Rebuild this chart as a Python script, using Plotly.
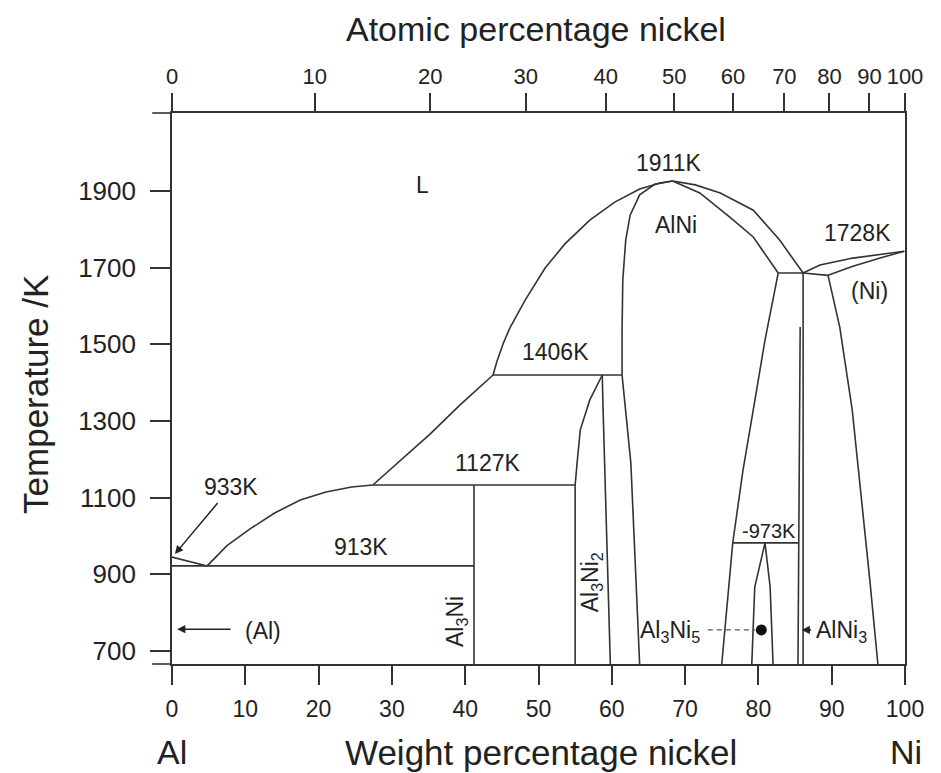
import plotly.graph_objects as go

# ---------------- data (weight % Ni, temperature K) ----------------
# liquidus, Al side
liq_al_wt = [0, 4.8]
liq_al_T = [945, 922]
liq1_wt = [4.8, 7.5, 10.6, 14.0, 17.5, 21.0, 24.5, 27.4]
liq1_T = [922, 975, 1018, 1060, 1094, 1115, 1128, 1133]
liq2_wt = [27.4, 31.1, 35.2, 39.3, 43.8]
liq2_T = [1133, 1196, 1266, 1342, 1420]
liq3_wt = [43.8, 44.3, 45.2, 46.1, 48.2, 50.9, 53.6, 57.0, 60.4, 63.8, 66.6, 68.3]
liq3_T = [1420, 1454, 1503, 1543, 1616, 1699, 1762, 1824, 1871, 1905, 1921, 1926]
# AlNi, Al-rich boundary (solidus + solvus)
alni_left_wt = [68.3, 65.9, 63.8, 62.5, 61.9, 61.5, 61.4, 61.4, 62.6, 63.8]
alni_left_T = [1926, 1918, 1890, 1837, 1772, 1668, 1537, 1420, 1190, 666]
# AlNi, Ni-rich liquidus and solidus
liq4_wt = [68.3, 71.4, 74.8, 79.3, 82.9, 86.1]
liq4_T = [1926, 1916, 1895, 1850, 1772, 1686]
sol4_wt = [68.3, 72.0, 76.1, 79.3, 82.7]
sol4_T = [1926, 1895, 1832, 1780, 1686]
# AlNi, Ni-rich solvus
alni_right_wt = [82.7, 80.9, 79.3, 77.9, 76.5, 75.0]
alni_right_T = [1686, 1511, 1329, 1172, 982, 666]
# peritectic 1686 line
per_wt = [82.7, 86.1, 89.5]
per_T = [1686, 1686, 1680]
# Ni liquidus / solidus
liq5_wt = [86.1, 88.4, 92.9, 99.9]
liq5_T = [1686, 1707, 1725, 1743]
sol5_wt = [89.5, 92.9, 96.6, 99.9]
sol5_T = [1680, 1704, 1725, 1743]
# (Ni) solvus
ni_solvus_wt = [89.5, 91.1, 92.8, 94.1, 95.2, 96.3]
ni_solvus_T = [1680, 1545, 1329, 1094, 885, 666]
# AlNi3 boundaries
alni3_a_wt = [86.1, 86.1]
alni3_a_T = [1686, 666]
alni3_b_wt = [85.7, 85.4]
alni3_b_T = [1545, 666]
# 973 K line
l973_wt = [76.4, 85.4]
l973_T = [982, 982]
# Al3Ni5
al3ni5_wt = [79.1, 79.5, 80.9, 81.6, 82.0]
al3ni5_T = [666, 867, 982, 867, 666]
# Al3Ni2
al3ni2_left_wt = [55.0, 55.0, 55.3, 55.7, 57.0, 58.7]
al3ni2_left_T = [666, 1133, 1198, 1277, 1355, 1420]
al3ni2_right_wt = [58.7, 58.8, 59.8]
al3ni2_right_T = [1420, 1337, 666]
# horizontals and Al3Ni
l1406_wt = [43.8, 61.4]
l1406_T = [1420, 1420]
l1127_wt = [27.4, 55.0]
l1127_T = [1133, 1133]
l913_wt = [0, 41.2]
l913_T = [922, 922]
al3ni_wt = [41.2, 41.2]
al3ni_T = [1133, 666]
# Al3Ni5 marker
dot_wt = [80.4]
dot_T = [755]
dash_wt = [73.1, 79.6]
dash_T = [755, 755]

# axes
temp_ticks = [700, 900, 1100, 1300, 1500, 1700, 1900]
wt_ticks = [0, 10, 20, 30, 40, 50, 60, 70, 80, 90, 100]
at_ticks = [0, 10, 20, 30, 40, 50, 60, 70, 80, 90, 100]
M_NI, M_AL = 58.69, 26.98
at_pos = [a * M_NI / (a * M_NI + (100 - a) * M_AL) * 100 for a in at_ticks]

# labels (text, wt, T)
lab_text = ["L", "1911K", "AlNi", "1728K", "(Ni)", "1406K", "1127K", "933K", "913K",
            "Al<sub>3</sub>Ni", "Al<sub>3</sub>Ni<sub>2</sub>", "-973K",
            "Al<sub>3</sub>Ni<sub>5</sub>", "AlNi<sub>3</sub>", "(Al)"]
lab_wt = [34.2, 67.7, 68.8, 93.5, 95.2, 52.3, 43.1, 8.1, 25.8, 38.9, 57.2, 81.5, 68.0, 91.4, 12.4]
lab_T = [1916, 1973, 1811, 1790, 1639, 1480, 1190, 1128, 971, 776, 880, 1013, 752, 750, 752]
lab_angle = [0, 0, 0, 0, 0, 0, 0, 0, 0, -90, -90, 0, 0, 0, 0]
lab_size = [23, 23, 23, 23, 23, 23, 23, 23, 23, 23, 23, 20, 23, 23, 23]

LC = "#333333"
LW = 1.6
FONT = "Liberation Sans, Arial, sans-serif"
TC = "#222222"

fig = go.Figure()
lines = [
    (liq_al_wt, liq_al_T), (liq1_wt, liq1_T), (liq2_wt, liq2_T), (liq3_wt, liq3_T),
    (alni_left_wt, alni_left_T), (liq4_wt, liq4_T), (sol4_wt, sol4_T),
    (alni_right_wt, alni_right_T), (per_wt, per_T), (liq5_wt, liq5_T), (sol5_wt, sol5_T),
    (ni_solvus_wt, ni_solvus_T), (alni3_a_wt, alni3_a_T), (alni3_b_wt, alni3_b_T),
    (l973_wt, l973_T), (al3ni5_wt, al3ni5_T), (al3ni2_left_wt, al3ni2_left_T),
    (al3ni2_right_wt, al3ni2_right_T), (l1406_wt, l1406_T), (l1127_wt, l1127_T),
    (l913_wt, l913_T), (al3ni_wt, al3ni_T),
]
for xs, ys in lines:
    fig.add_trace(go.Scatter(x=xs, y=ys, mode="lines", line=dict(color=LC, width=LW),
                             showlegend=False, hoverinfo="skip"))
fig.add_trace(go.Scatter(x=dash_wt, y=dash_T, mode="lines",
                         line=dict(color="#555555", width=1.4, dash="5px,4px"),
                         showlegend=False, hoverinfo="skip"))
fig.add_trace(go.Scatter(x=dot_wt, y=dot_T, mode="markers",
                         marker=dict(color="#111111", size=11), showlegend=False, hoverinfo="skip"))
# invisible trace for the top axis
fig.add_trace(go.Scatter(x=[0, 100], y=[700, 700], xaxis="x2", mode="markers",
                         marker=dict(opacity=0), showlegend=False, hoverinfo="skip"))

for t, x, y, ang, sz in zip(lab_text, lab_wt, lab_T, lab_angle, lab_size):
    fig.add_annotation(x=x, y=y, text=t, showarrow=False, textangle=ang,
                       xanchor="center", yanchor="middle",
                       font=dict(family=FONT, size=sz, color=TC))

# arrows: 933K, (Al), AlNi3
arrows = [(0.4, 953, 6.4, 1090), (0.7, 757, 8.2, 757), (85.9, 755, 87.4, 755)]
for hx, hy, tx, ty in arrows:
    fig.add_annotation(x=hx, y=hy, ax=tx, ay=ty, xref="x", yref="y", axref="x", ayref="y",
                       text="", showarrow=True, arrowhead=2, arrowsize=1.1,
                       arrowwidth=1.5, arrowcolor=TC)

# axis titles and end labels (paper coords relative to plot area)
outer = [
    ("Temperature /K", -0.187, 0.49, -90, 35),
    ("Weight percentage nickel", 0.504, -0.160, 0, 35),
    ("Al", 0.0, -0.160, 0, 34),
    ("Ni", 1.001, -0.160, 0, 34),
    ("Atomic percentage nickel", 0.4966, 1.152, 0, 34),
]
for t, xp, yp, ang, sz in outer:
    fig.add_annotation(xref="paper", yref="paper", x=xp, y=yp, text=t, textangle=ang,
                       xanchor="center", yanchor="middle", showarrow=False,
                       font=dict(family=FONT, size=sz, color=TC))

# small extensions of top and bottom frame lines to the left
for yp in (0, 1):
    fig.add_shape(type="line", xref="paper", yref="paper", x0=-0.027, x1=0, y0=yp, y1=yp,
                  line=dict(color=LC, width=LW))

axis_common = dict(showgrid=False, zeroline=False, showline=True, linecolor=LC, linewidth=LW,
                   ticks="outside", tickcolor=LC, tickwidth=LW)
fig.update_layout(
    width=933, height=765,
    margin=dict(l=164, r=36, t=105, b=109, autoexpand=False),
    plot_bgcolor="white", paper_bgcolor="white",
    font=dict(family=FONT, color=TC),
    xaxis=dict(range=[0, 100], tickvals=wt_ticks, ticktext=[str(v) for v in wt_ticks],
               ticklen=19, tickfont=dict(size=23), ticklabelstandoff=5, **axis_common),
    xaxis2=dict(range=[0, 100], overlaying="x", side="top", tickvals=at_pos,
                ticktext=[str(v) for v in at_ticks], ticklen=18, tickfont=dict(size=22),
                **axis_common),
    yaxis=dict(range=[666.1, 2103.5], tickvals=temp_ticks, ticktext=[str(v) for v in temp_ticks],
               ticklen=20, tickfont=dict(size=26), mirror=True, ticklabelstandoff=9,
               **axis_common),
)

fig.write_html("out.html")
